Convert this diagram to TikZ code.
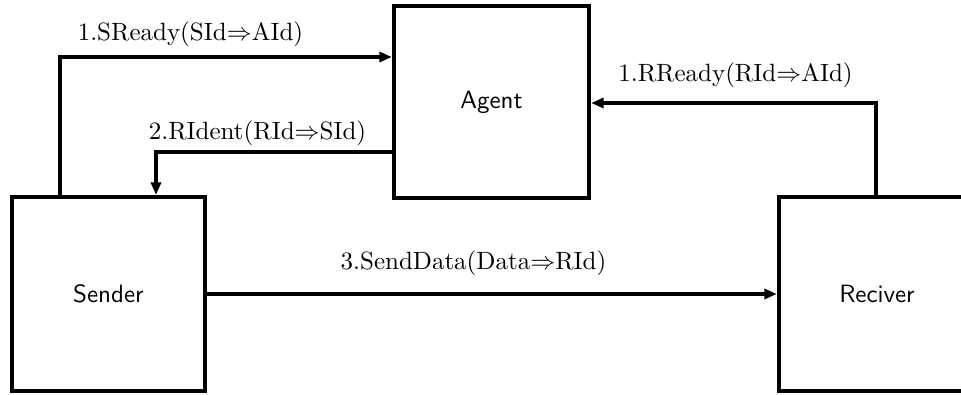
\documentclass[tikz,border=0pt]{standalone}
\usetikzlibrary{arrows.meta}
\begin{document}
\begin{tikzpicture}[
		x=0.4pt, y=0.4pt,
		font=\normalsize
	]
	\tikzset{
		mybox/.style = {rectangle, draw=black, line width=1.7pt, inner sep=0pt,
			font=\sffamily},
		myflow/.style = {line width=1.3pt, -{Triangle[length=5pt,width=4pt]}},
		mymsg/.style = {inner sep=0pt, font=\rmfamily},
	}
		\useasboundingbox (0,0) rectangle (961,394);
		\node[mybox, minimum width=78pt, minimum height=76.8pt] at (491.5,292) (agent) {Agent};
		\node[mybox, minimum width=77.2pt, minimum height=77.6pt] at (108.5,100) (sender) {Sender};
		\node[mybox, minimum width=78.4pt, minimum height=77.6pt] at (877,100) (reciver) {Reciver};
		%
		\coordinate (sready) at (60,337);
		\coordinate (rident) at (156,242);
		\coordinate (rready) at (876,291);
		%
		\draw[myflow] (sender.north -| sready) |- (agent.west |- sready);
		\draw[myflow] (agent.west |- rident) -| (sender.north -| rident);
		\draw[myflow] (reciver.north -| rready) |- (agent.east |- rready);
		\draw[myflow] (sender.east) -- (reciver.west);
		%
		\node[mymsg] at (190.5,360) (lsready) {1.SReady(SId$\Rightarrow$AId)};
		\node[mymsg] at (257.5,260.5) (lrident) {2.RIdent(RId$\Rightarrow$SId)};
		\node[mymsg] at (735.5,318.5) (lrready) {1.RReady(RId$\Rightarrow$AId)};
		\node[mymsg] at (473.5,130.5) (lsenddata) {3.SendData(Data$\Rightarrow$RId)};
	\end{tikzpicture}
\end{document}
